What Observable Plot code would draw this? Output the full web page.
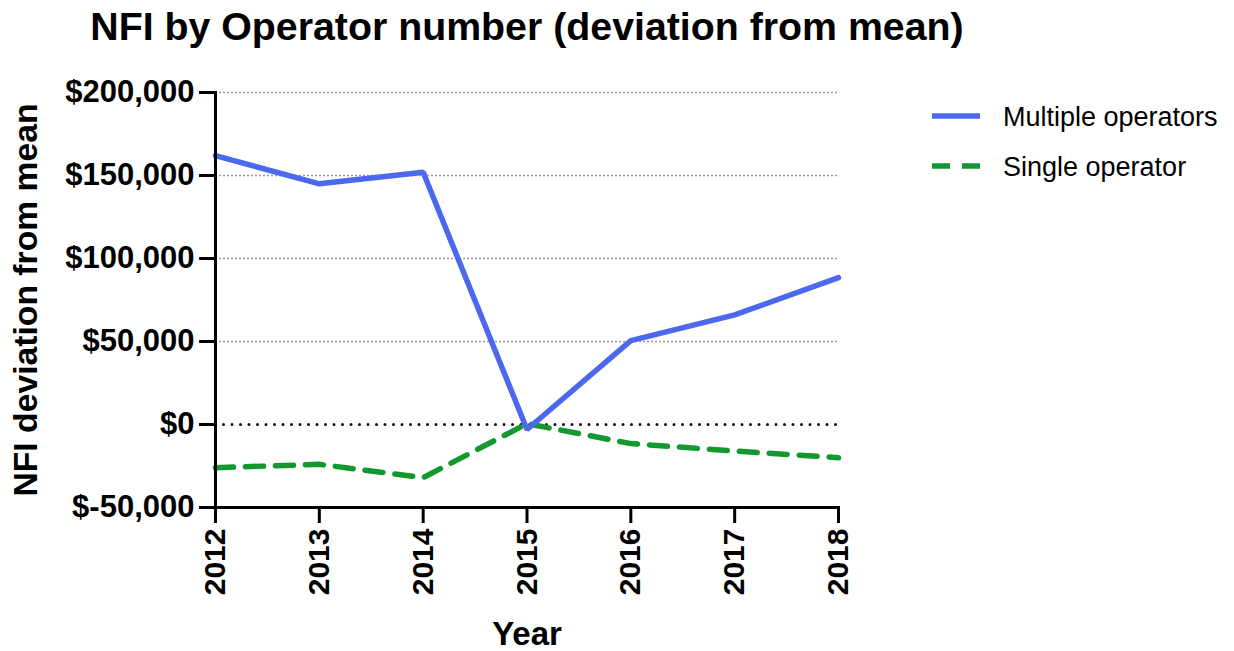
<!DOCTYPE html>
<html>
<head>
<meta charset="utf-8">
<script src="https://cdn.jsdelivr.net/npm/d3@7"></script>
<script src="https://cdn.jsdelivr.net/npm/@observablehq/plot@0.6"></script>
<style>
  html, body { margin: 0; padding: 0; background: #fff; }
  svg { display: block; }
</style>
</head>
<body>
<div id="chart"></div>
<script>
const years = [2012, 2013, 2014, 2015, 2016, 2017, 2018];
const multipleOperators = [162000, 145000, 152000, -3000, 50500, 66000, 88500];
const singleOperator = [-26000, -24000, -32000, 500, -11500, -16000, -20000];
const yTicks = [-50000, 0, 50000, 100000, 150000, 200000];
const gridTicks = [50000, 100000, 150000, 200000];
const seriesNames = ["Multiple operators", "Single operator"];
const seriesColors = ["#4B68EE", "#12982F"];

const multi = years.map((y, i) => ({year: y, value: multipleOperators[i]}));
const single = years.map((y, i) => ({year: y, value: singleOperator[i]}));

const fmt = d => "$" + d.toLocaleString("en-US");
const font = "'Liberation Sans', Arial, Helvetica, sans-serif";

const plot = Plot.plot({
  width: 1234,
  height: 651,
  marginLeft: 215,
  marginRight: 396,
  marginTop: 92,
  marginBottom: 144,
  style: {fontFamily: font, fontSize: "30px", fontWeight: "bold", color: "black", background: "white"},
  x: {domain: [2012, 2018], type: "linear"},
  y: {domain: [-50000, 200000]},
  marks: [
    Plot.gridY(gridTicks, {stroke: "#9a9a9a", strokeOpacity: 1, strokeWidth: 1.5, strokeDasharray: "2,2"}),
    Plot.ruleY([0], {stroke: "#111", strokeWidth: 3, strokeDasharray: "0,8.5", strokeLinecap: "round"}),
    Plot.line(single, {x: "year", y: "value", stroke: seriesColors[1], strokeWidth: 5.5, strokeDasharray: "18,12", strokeLinejoin: "round"}),
    Plot.line(multi, {x: "year", y: "value", stroke: seriesColors[0], strokeWidth: 5.5, strokeLinejoin: "miter"}),
    Plot.axisY({ticks: yTicks, tickFormat: fmt, tickSize: 16, tickPadding: 5, strokeWidth: 3, label: null, fontSize: 31}),
    Plot.axisX({ticks: years, tickFormat: d => String(d), tickSize: 16, tickPadding: 5, tickRotate: -90, strokeWidth: 3, label: null, fontSize: 30}),
    Plot.frame({anchor: "left", strokeWidth: 3}),
    Plot.frame({anchor: "bottom", strokeWidth: 3})
  ]
});

document.getElementById("chart").appendChild(plot);

const svg = d3.select(plot);
svg.append("text")
  .attr("x", 527).attr("y", 40)
  .attr("text-anchor", "middle")
  .attr("font-family", font).attr("font-weight", "bold").attr("font-size", 39.3)
  .attr("fill", "black")
  .text("NFI by Operator number (deviation from mean)");

svg.append("text")
  .attr("transform", "translate(37,300) rotate(-90)")
  .attr("text-anchor", "middle")
  .attr("font-family", font).attr("font-weight", "bold").attr("font-size", 33.7)
  .attr("fill", "black")
  .text("NFI deviation from mean");

svg.append("text")
  .attr("x", 527).attr("y", 645)
  .attr("text-anchor", "middle")
  .attr("font-family", font).attr("font-weight", "bold").attr("font-size", 33)
  .attr("fill", "black")
  .text("Year");

const legend = svg.append("g");
seriesNames.forEach((name, i) => {
  const ly = 116 + i * 50;
  legend.append("line")
    .attr("x1", 932).attr("x2", 980).attr("y1", ly).attr("y2", ly)
    .attr("stroke", seriesColors[i]).attr("stroke-width", 5.5)
    .attr("stroke-dasharray", i === 1 ? "18,12" : null);
  legend.append("text")
    .attr("x", 1003).attr("y", ly + 10)
    .attr("text-anchor", "start")
    .attr("font-family", font).attr("font-weight", "normal").attr("font-size", 27)
    .attr("fill", "black")
    .text(name);
});
</script>
</body>
</html>
